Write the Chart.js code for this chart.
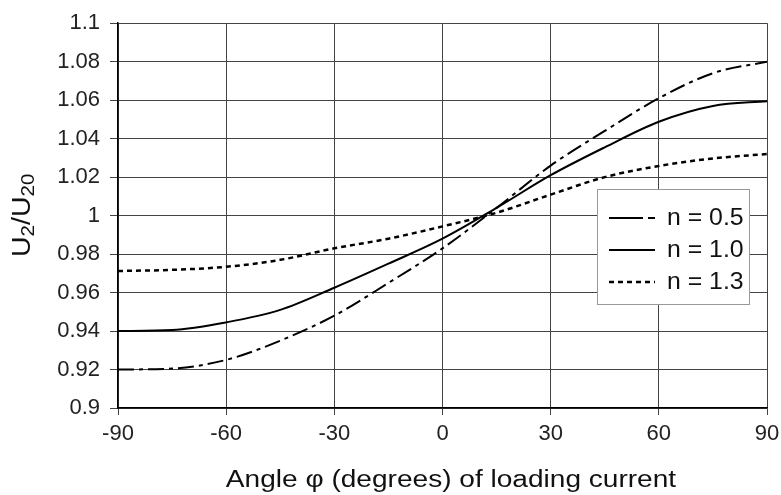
<!DOCTYPE html>
<html>
<head>
<meta charset="utf-8">
<script src="https://cdn.jsdelivr.net/npm/chart.js@4.4.1/dist/chart.umd.min.js"></script>
<style>
  html, body { margin: 0; padding: 0; background: #fff; }
  #wrap { width: 781px; height: 495px; }
</style>
</head>
<body>
<div id="wrap"><canvas id="chart" width="781" height="495"></canvas></div>
<script>
// DATA
const angles = [-90, -75, -60, -45, -30, -15, 0, 15, 30, 45, 60, 75, 90];
const n05 = [0.920, 0.9205, 0.925, 0.935, 0.948, 0.965, 0.983, 1.004, 1.026, 1.044, 1.061, 1.074, 1.080];
const n10 = [0.940, 0.9405, 0.9445, 0.951, 0.9625, 0.975, 0.988, 1.004, 1.021, 1.0355, 1.0488, 1.057, 1.0595];
const n13 = [0.9712, 0.9718, 0.9734, 0.977, 0.983, 0.988, 0.9944, 1.0015, 1.0109, 1.020, 1.0258, 1.0297, 1.032];
const seriesLabels = ['n = 0.5', 'n = 1.0', 'n = 1.3'];

const xTicks = [-90, -60, -30, 0, 30, 60, 90];
const yTicks = [0.9, 0.92, 0.94, 0.96, 0.98, 1, 1.02, 1.04, 1.06, 1.08, 1.1];
const yTickLabels = ['0.9', '0.92', '0.94', '0.96', '0.98', '1', '1.02', '1.04', '1.06', '1.08', '1.1'];
const xTitle = 'Angle \u03c6 (degrees) of loading current';

const FONT = "'Liberation Sans', Arial, sans-serif";

function toPoints(ys) {
    return angles.map((a, i) => ({ x: a, y: ys[i] }));
}

// legend box drawn inside the plot
const boxLegend = {
    id: 'boxLegend',
    afterDraw(chart, args, opts) {
        const ctx = chart.ctx;
        ctx.save();
        ctx.fillStyle = '#fff';
        ctx.fillRect(opts.x, opts.y, opts.w, opts.h);
        ctx.strokeStyle = '#999';
        ctx.lineWidth = 1;
        ctx.strokeRect(opts.x + 0.5, opts.y + 0.5, opts.w, opts.h);
        chart.data.datasets.forEach((ds, i) => {
            const cy = opts.y + opts.rowStart + i * opts.rowGap;
            ctx.beginPath();
            ctx.setLineDash(opts.dashes[i]);
            ctx.strokeStyle = ds.borderColor;
            ctx.lineWidth = ds.borderWidth;
            ctx.moveTo(opts.x + 12, cy);
            ctx.lineTo(opts.x + 58, cy);
            ctx.stroke();
            ctx.setLineDash([]);
            ctx.save();
            ctx.translate(opts.x + 70, cy + 1);
            ctx.scale(1.08, 1);
            ctx.fillStyle = '#111';
            ctx.font = '23px ' + FONT;
            ctx.textBaseline = 'middle';
            ctx.fillText(ds.label, 0, 0);
            ctx.restore();
        });
        ctx.restore();
    }
};

// axis titles: x title slightly stretched, y title rotated with subscripts (U2/U20)
const axisTitles = {
    id: 'axisTitles',
    afterDraw(chart) {
        const ctx = chart.ctx;
        ctx.save();
        ctx.fillStyle = '#111';
        ctx.textBaseline = 'alphabetic';
        ctx.font = '23px ' + FONT;
        ctx.translate(451, 487);
        ctx.scale(1.22, 1);
        ctx.textAlign = 'center';
        ctx.fillText(xTitle, 0, 0);
        ctx.restore();

        ctx.save();
        ctx.fillStyle = '#111';
        ctx.textBaseline = 'alphabetic';
        ctx.translate(30, 257);
        ctx.rotate(-Math.PI / 2);
        ctx.scale(1.14, 1);
        const parts = [['U', 25, 0], ['2', 18, 4], ['/', 25, 0], ['U', 25, 0], ['20', 18, 4]];
        let x = 0;
        parts.forEach(p => {
            ctx.font = p[1] + 'px ' + FONT;
            ctx.fillText(p[0], x, p[2]);
            x += ctx.measureText(p[0]).width;
        });
        ctx.restore();
    }
};

const whiteBg = {
    id: 'whiteBg',
    beforeDraw(chart) {
        const ctx = chart.ctx;
        ctx.save();
        ctx.fillStyle = '#fff';
        ctx.fillRect(0, 0, chart.width, chart.height);
        ctx.restore();
    }
};

new Chart(document.getElementById('chart'), {
    type: 'line',
    data: {
        datasets: [
            { label: seriesLabels[0], data: toPoints(n05), borderColor: '#000', borderWidth: 2, borderDash: [16, 5, 4, 5] },
            { label: seriesLabels[1], data: toPoints(n10), borderColor: '#000', borderWidth: 2 },
            { label: seriesLabels[2], data: toPoints(n13), borderColor: '#000', borderWidth: 2.5, borderDash: [5, 4] }
        ]
    },
    options: {
        responsive: false,
        animation: false,
        devicePixelRatio: 1,
        layout: { padding: { top: 20, right: 14, left: 0, bottom: 0 } },
        elements: {
            point: { radius: 0 },
            line: { cubicInterpolationMode: 'monotone', fill: false }
        },
        plugins: {
            legend: { display: false },
            tooltip: { enabled: false },
            boxLegend: {
                x: 597, y: 189, w: 152, h: 115, rowStart: 29, rowGap: 32,
                dashes: [[34, 5, 7, 100], [], [5, 4]]
            }
        },
        scales: {
            x: {
                type: 'linear',
                min: -90, max: 90,
                afterBuildTicks: s => { s.ticks = xTicks.map(v => ({ value: v })); },
                afterFit: s => { s.height = 87; s.paddingRight = 0; s.paddingLeft = 0; },
                ticks: { color: '#222', font: { family: FONT, size: 22 }, padding: 6, maxRotation: 0 },
                grid: { color: '#444', lineWidth: 1, tickLength: 7 },
                border: { color: '#000', width: 1.5 }
            },
            y: {
                min: 0.9, max: 1.1,
                afterBuildTicks: s => { s.ticks = yTicks.map(v => ({ value: v })); },
                afterFit: s => { s.width = 118; },
                ticks: { color: '#222', font: { family: FONT, size: 22 }, padding: 10, callback: (v, i) => yTickLabels[i] },
                grid: { color: '#444', lineWidth: 1, tickLength: 8 },
                border: { color: '#000', width: 1.5 }
            }
        }
    },
    plugins: [whiteBg, boxLegend, axisTitles]
});
</script>
</body>
</html>
